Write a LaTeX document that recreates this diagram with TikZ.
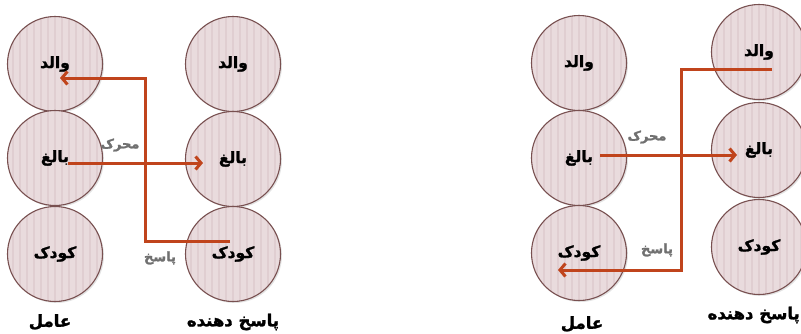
\documentclass[tikz,border=0pt]{standalone}
\usepackage{fontspec}
\newfontfamily\ar[Script=Arabic,FakeBold=1.6]{DejaVu Sans Bold}
\TeXXeTstate=1
\usetikzlibrary{arrows.meta,shadows,calc}
\definecolor{cfill}{RGB}{233,219,221}
\definecolor{cstripe}{RGB}{224,206,209}
\definecolor{cline}{RGB}{120,80,80}
\definecolor{arr}{RGB}{192,68,28}
\definecolor{lbl}{RGB}{112,112,112}
\newcommand{\fa}[1]{{\ar\beginR #1\endR}}
\begin{document}
\begin{tikzpicture}[x=1pt,y=-1pt,
  circ/.style={circle, minimum size=95pt, inner sep=0pt, draw=cline, line width=1.1pt, fill=cfill,
    drop shadow={opacity=0.22, shadow xshift=1.5pt, shadow yshift=-1.5pt},
    path picture={\foreach \k in {-7,...,7}{\draw[cstripe, line width=1.6pt] ([xshift=\k*7pt]path picture bounding box.north) -- ([xshift=\k*7pt]path picture bounding box.south);}},
    font=\fontsize{15.5}{17}\selectfont},
  conn/.style={draw=arr, line width=3pt, -{Straight Barb[length=5.5pt,width=13pt]}},
  lab/.style={text=lbl, font=\fontsize{13}{15}\selectfont, inner sep=0pt},
  title/.style={font=\fontsize{16.5}{18}\selectfont, inner sep=0pt}]
\useasboundingbox (0,0) rectangle (801,333);
% ---- left diagram
\node[circ] (Ap) at (55,64) {\fa{والد}};
\node[circ] (Aa) at (55,158) {\fa{بالغ}};
\node[circ] (Ac) at (55,254) {\fa{کودک}};
\node[circ] (Bp) at (233,64) {\fa{والد}};
\node[circ] (Ba) at (233,159) {\fa{بالغ}};
\node[circ] (Bc) at (233,254) {\fa{کودک}};
\node[title] (At) at (50,322) {\fa{عامل}};
\node[title] (Bt) at (233,322) {\fa{پاسخ دهنده}};
\coordinate (s1) at ($(Bc)+(-3,-13)$);
\coordinate (e1) at ($(Ap)+(5,14)$);
\draw[conn] (s1) -- ++(-85,0) |- (e1);
\draw[conn] ($(Aa)+(13,5)$) -- ($(Ba)+(-30,4)$);
\node[lab] (m1) at (120,145) {\fa{محرک}};
\node[lab] (p1) at (160,258) {\fa{پاسخ}};
% ---- right diagram
\node[circ] (Rap) at (579,63) {\fa{والد}};
\node[circ] (Raa) at (579,158) {\fa{بالغ}};
\node[circ] (Rac) at (579,253) {\fa{کودک}};
\node[circ] (Rbp) at (759,52) {\fa{والد}};
\node[circ] (Rba) at (759,150) {\fa{بالغ}};
\node[circ] (Rbc) at (759,247) {\fa{کودک}};
\node[title] (Rat) at (582,324) {\fa{عامل}};
\node[title, anchor=east] (Rbt) at (800,315) {\fa{پاسخ دهنده}};
\coordinate (s2) at ($(Rbp)+(13,17)$);
\coordinate (e2) at ($(Rac)+(-21,17)$);
\draw[conn] (s2) -- ++(-91,0) |- (e2);
\draw[conn] ($(Raa)+(21,-3)$) -- ($(Rba)+(-22,5)$);
\node[lab] (m2) at (647,137) {\fa{محرک}};
\node[lab] (p2) at (657,250) {\fa{پاسخ}};
\end{tikzpicture}
\end{document}
